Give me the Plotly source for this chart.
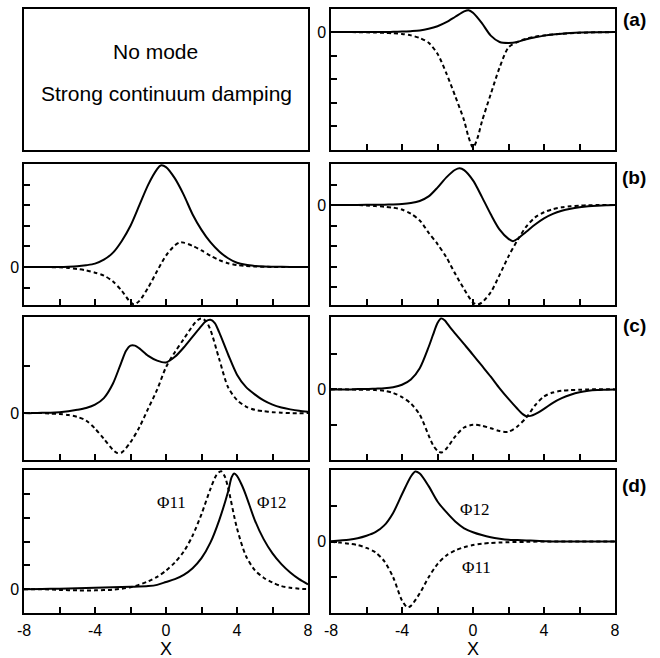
import plotly.graph_objects as go

# ---------------- data ----------------
XA_S = [-8,-7,-6,-5,-4.5,-4,-3.5,-3,-2.5,-2,-1.5,-1,-0.5,-0.25,0,0.5,1,1.5,2,2.5,3,3.5,4,4.5,5,5.5,6,7,8]
A_S = [0,0,0,0,0.01,0.02,0.04,0.07,0.14,0.25,0.42,0.65,0.88,0.93,0.82,0.38,-0.15,-0.42,-0.46,-0.42,-0.3,-0.22,-0.15,-0.1,-0.07,-0.04,-0.02,-0.01,0]
XA_D = [-8,-7,-6,-5.5,-5,-4.5,-4,-3.5,-3,-2.5,-2,-1.5,-1,-0.5,-0.25,0,0.25,0.5,1,1.5,2,2.5,3,3.5,4,5,6,7,8]
A_D = [0,0,-0.01,-0.02,-0.03,-0.05,-0.08,-0.14,-0.25,-0.45,-0.92,-1.75,-2.72,-3.75,-4.45,-4.9,-4.5,-3.8,-2.63,-1.5,-0.65,-0.42,-0.28,-0.2,-0.14,-0.07,-0.03,-0.01,0]

XB1_S = [-8,-7,-6,-5.5,-5,-4.5,-4,-3.5,-3,-2.5,-2,-1.5,-1,-0.5,-0.3,0,0.5,1,1.5,2,2.5,3,3.5,4,4.5,5,5.5,6,7,8]
B1_S = [0,0,0,0.01,0.03,0.08,0.16,0.35,0.68,1.25,2.0,3.0,4.0,4.75,4.93,4.85,4.3,3.5,2.55,1.8,1.2,0.75,0.42,0.2,0.1,0.05,0.02,0.01,0,0]
XB1_D = [-8,-7,-6.5,-6,-5.5,-5,-4.5,-4,-3.5,-3,-2.5,-2,-1.8,-1.5,-1,-0.5,0,0.5,0.8,1,1.5,2,2.5,3,3.5,4,4.5,5,6,7,8]
B1_D = [0,0,-0.01,-0.02,-0.05,-0.1,-0.17,-0.28,-0.42,-0.7,-1.15,-1.72,-1.82,-1.65,-1.0,-0.2,0.55,1.05,1.2,1.18,1.02,0.8,0.55,0.33,0.18,0.09,0.04,0.02,0,0,0]

XB2_S = [-8,-7,-6,-5.5,-5,-4.5,-4,-3.5,-3,-2.5,-2,-1.5,-1,-0.75,-0.5,0,0.5,1,1.5,2,2.25,2.5,3,3.5,4,4.5,5,5.5,6,6.5,7,7.5,8]
B2_S = [0,0,0.01,0.01,0.02,0.03,0.05,0.1,0.2,0.42,0.85,1.35,1.72,1.79,1.7,1.2,0.4,-0.45,-1.2,-1.65,-1.76,-1.65,-1.3,-0.95,-0.65,-0.43,-0.28,-0.18,-0.11,-0.06,-0.03,-0.01,0]
XB2_D = [-8,-7,-6.5,-6,-5.5,-5,-4.5,-4,-3.5,-3,-2.5,-2,-1.5,-1,-0.5,0,0.25,0.5,1,1.5,2,2.5,3,3.5,4,4.5,5,5.5,6,6.5,7,8]
B2_D = [0,0,0,-0.02,-0.05,-0.08,-0.13,-0.22,-0.42,-0.75,-1.35,-1.9,-2.55,-3.35,-4.1,-4.75,-4.85,-4.75,-4.25,-3.4,-2.5,-1.72,-1.05,-0.6,-0.35,-0.2,-0.11,-0.06,-0.03,-0.01,0,0]

XC1_S = [-8,-7.5,-7,-6.5,-6,-5.5,-5,-4.5,-4,-3.5,-3,-2.5,-2.25,-2,-1.75,-1.5,-1,-0.5,0,0.5,1,1.5,2,2.25,2.5,2.75,3,3.5,4,4.5,5,5.5,6,6.5,7,7.5,8]
C1_S = [0,0,0.01,0.01,0.02,0.04,0.07,0.11,0.18,0.32,0.62,1.1,1.33,1.44,1.44,1.38,1.22,1.12,1.08,1.2,1.4,1.63,1.86,1.96,1.99,1.92,1.72,1.25,0.82,0.56,0.4,0.27,0.18,0.12,0.08,0.05,0.03]
XC1_D = [-8,-7,-6.5,-6,-5.5,-5,-4.5,-4,-3.5,-3,-2.75,-2.5,-2,-1.5,-1,-0.5,0,0.5,1,1.5,1.8,2,2.25,2.5,3,3.5,4,4.5,5,5.5,6,6.5,7,8]
C1_D = [0,0,-0.01,-0.02,-0.04,-0.08,-0.16,-0.33,-0.55,-0.78,-0.85,-0.84,-0.62,-0.3,0.1,0.5,0.98,1.3,1.58,1.86,1.99,2.02,1.96,1.78,1.15,0.55,0.28,0.14,0.07,0.04,0.02,0.01,0,0]

XC2_S = [-8,-7,-6.5,-6,-5.5,-5,-4.5,-4,-3.5,-3,-2.5,-2.25,-2,-1.8,-1.6,-1.3,-1,-0.5,0,0.5,1,1.5,2,2.5,2.8,3,3.25,3.5,4,4.5,5,5.5,6,6.5,7,7.5,8]
C2_S = [0,0,0.01,0.01,0.02,0.03,0.06,0.13,0.28,0.6,1.2,1.55,1.88,2.01,1.96,1.76,1.58,1.28,0.98,0.67,0.36,0.03,-0.27,-0.55,-0.7,-0.76,-0.75,-0.7,-0.55,-0.38,-0.25,-0.15,-0.08,-0.04,-0.02,-0.01,0]
XC2_D = [-8,-7,-6.5,-6,-5.5,-5,-4.5,-4,-3.5,-3,-2.5,-2.25,-2,-1.8,-1.5,-1,-0.5,0,0.5,1,1.5,2,2.5,3,3.5,4,4.5,5,5.5,6,6.5,8]
C2_D = [0,0,-0.01,-0.01,-0.02,-0.04,-0.1,-0.22,-0.4,-0.72,-1.3,-1.58,-1.74,-1.79,-1.68,-1.33,-1.08,-1.0,-1.03,-1.1,-1.18,-1.2,-1.05,-0.8,-0.45,-0.2,-0.09,-0.04,-0.02,-0.01,0,0]

XD1_S = [-8,-7,-6,-5,-4,-3,-2,-1,-0.5,0,0.5,1,1.5,2,2.5,3,3.5,3.7,3.85,4,4.25,4.5,5,5.5,6,6.5,7,7.5,8]
D1_S = [0,0.01,0.02,0.04,0.06,0.08,0.1,0.13,0.18,0.3,0.42,0.6,0.88,1.3,1.95,2.9,4.1,4.7,4.85,4.75,4.4,3.95,2.9,2.1,1.5,1.05,0.7,0.42,0.2]
XD1_D = [-8,-7,-6,-5,-4,-3,-2,-1,-0.5,0,0.5,1,1.5,2,2.5,2.85,3.1,3.3,3.5,4,4.5,5,5.5,6,6.5,7,7.5,8]
D1_D = [0,0,-0.03,-0.05,-0.05,-0.02,0.08,0.33,0.52,0.78,1.12,1.58,2.25,3.15,4.2,4.8,4.95,4.75,4.25,2.55,1.4,0.8,0.48,0.28,0.13,0.06,0.02,0]

XD2_S = [-8,-7.5,-7,-6.5,-6,-5.5,-5,-4.5,-4,-3.5,-3.25,-3,-2.5,-2,-1.5,-1,-0.5,0,0.5,1,1.5,2,2.5,3,3.5,4,4.5,8]
D2_S = [0.01,0.03,0.05,0.09,0.16,0.26,0.45,0.8,1.32,1.82,1.96,1.9,1.55,1.12,0.82,0.56,0.37,0.26,0.18,0.12,0.08,0.05,0.04,0.03,0.02,0.01,0,0]
XD2_D = [-8,-7.5,-7,-6.5,-6,-5.5,-5,-4.5,-4,-3.7,-3.5,-3,-2.5,-2,-1.5,-1,-0.5,0,0.5,1,1.5,2,3,4,8]
D2_D = [-0.01,-0.03,-0.06,-0.1,-0.18,-0.3,-0.55,-1.0,-1.65,-1.84,-1.8,-1.45,-1.0,-0.63,-0.39,-0.25,-0.16,-0.1,-0.06,-0.04,-0.03,-0.02,-0.01,0,0]

X_TICKS = [-8, -6, -4, -2, 0, 2, 4, 6, 8]
X_TICK_LABELS = ["-8", "", "-4", "", "0", "", "4", "", "8"]

# panel id -> (y range, y tick values)
Y_SETUP = {
    2: ([-5, 1], [-4, -3, -2, -1, 0]),
    3: ([-1.85, 5], [-1, 0, 1, 2, 3, 4]),
    4: ([-4.87, 2], [-4, -3, -2, -1, 0, 1]),
    5: ([-1, 2.05], [0, 1]),
    6: ([-2, 2.05], [-1, 0, 1]),
    7: ([-1, 5], [0, 1, 2, 3, 4]),
    8: ([-2, 2], [-1, 0, 1]),
}
CURVES = {
    2: ((XA_S, A_S), (XA_D, A_D)),
    3: ((XB1_S, B1_S), (XB1_D, B1_D)),
    4: ((XB2_S, B2_S), (XB2_D, B2_D)),
    5: ((XC1_S, C1_S), (XC1_D, C1_D)),
    6: ((XC2_S, C2_S), (XC2_D, C2_D)),
    7: ((XD1_S, D1_S), (XD1_D, D1_D)),
    8: ((XD2_S, D2_S), (XD2_D, D2_D)),
}

# ---------------- layout geometry ----------------
W, H = 660, 658
COLS = [(24, 308), (331, 615)]
ROWS = [(8.5, 150), (164, 305), (317, 460), (470, 613)]

def xdom(c):
    a, b = COLS[c]
    return [a / W, b / W]

def ydom(r):
    t, b = ROWS[r]
    return [1 - b / H, 1 - t / H]

fig = go.Figure()
layout = dict(
    width=W, height=H, margin=dict(l=0, r=0, t=0, b=0),
    paper_bgcolor="white", plot_bgcolor="white", showlegend=False,
    template="none",
    font=dict(family="Liberation Sans, Arial, sans-serif", size=16, color="black"),
)

for pid in range(1, 9):
    r, c = divmod(pid - 1, 2)
    xa = "xaxis" if pid == 1 else f"xaxis{pid}"
    ya = "yaxis" if pid == 1 else f"yaxis{pid}"
    xref = "x" if pid == 1 else f"x{pid}"
    yref = "y" if pid == 1 else f"y{pid}"
    common = dict(showline=True, linecolor="black", linewidth=1.5, mirror=True,
                  showgrid=False, zeroline=False, fixedrange=True)
    if pid == 1:
        layout[xa] = dict(domain=xdom(c), anchor=yref, range=[0, 1], ticks="",
                          showticklabels=False, **common)
        layout[ya] = dict(domain=ydom(r), anchor=xref, range=[0, 1], ticks="",
                          showticklabels=False, **common)
        # empty trace so that the framed text box is drawn
        fig.add_trace(go.Scatter(x=[], y=[], xaxis=xref, yaxis=yref, mode="lines",
                                 hoverinfo="skip"))
        continue
    bottom = r == 3
    layout[xa] = dict(domain=xdom(c), anchor=yref, range=[-8, 8],
                      tickmode="array", tickvals=X_TICKS,
                      ticktext=X_TICK_LABELS if bottom else [""] * len(X_TICKS),
                      ticks="inside", ticklen=6, tickwidth=1.5, tickcolor="black",
                      ticklabelstandoff=2,
                      tickfont=dict(size=16, color="black"), **common)
    yr, yt = Y_SETUP[pid]
    layout[ya] = dict(domain=ydom(r), anchor=xref, range=yr,
                      tickmode="array", tickvals=yt,
                      ticktext=["0" if v == 0 else "" for v in yt],
                      ticks="inside", ticklen=6, tickwidth=1.5, tickcolor="black",
                      tickfont=dict(size=16, color="black"), **common)
    (xs, ys), (xd, yd) = CURVES[pid]
    fig.add_trace(go.Scatter(x=xd, y=yd, xaxis=xref, yaxis=yref, mode="lines",
                             line=dict(color="black", width=2, dash="4px,3px", shape="spline", smoothing=0.8),
                             hoverinfo="skip"))
    fig.add_trace(go.Scatter(x=xs, y=ys, xaxis=xref, yaxis=yref, mode="lines",
                             line=dict(color="black", width=2, shape="spline", smoothing=0.8),
                             hoverinfo="skip"))

fig.update_layout(**layout)

def ann(text, px, py, size, family="Liberation Sans, Arial, sans-serif", bold=False):
    fig.add_annotation(text=f"<b>{text}</b>" if bold else text,
                       x=px / W, y=1 - py / H, xref="paper", yref="paper",
                       showarrow=False, xanchor="center", yanchor="middle",
                       font=dict(family=family, size=size, color="black"))

ann("No mode", 155, 52, 21)
ann("Strong continuum damping", 166, 93, 21)
for lab, py in (("(a)", 19), ("(b)", 177), ("(c)", 325), ("(d)", 485)):
    ann(lab, 634, py, 19, bold=True)
ann("X", 166, 649, 18)
ann("X", 473, 649, 18)
SERIF = "Liberation Serif, Times New Roman, serif"
ann("Φ11", 171, 503, 17, SERIF)
ann("Φ12", 271, 503, 17, SERIF)
ann("Φ12", 474, 509, 17, SERIF)
ann("Φ11", 476, 567, 17, SERIF)

fig.write_html("out.html")
